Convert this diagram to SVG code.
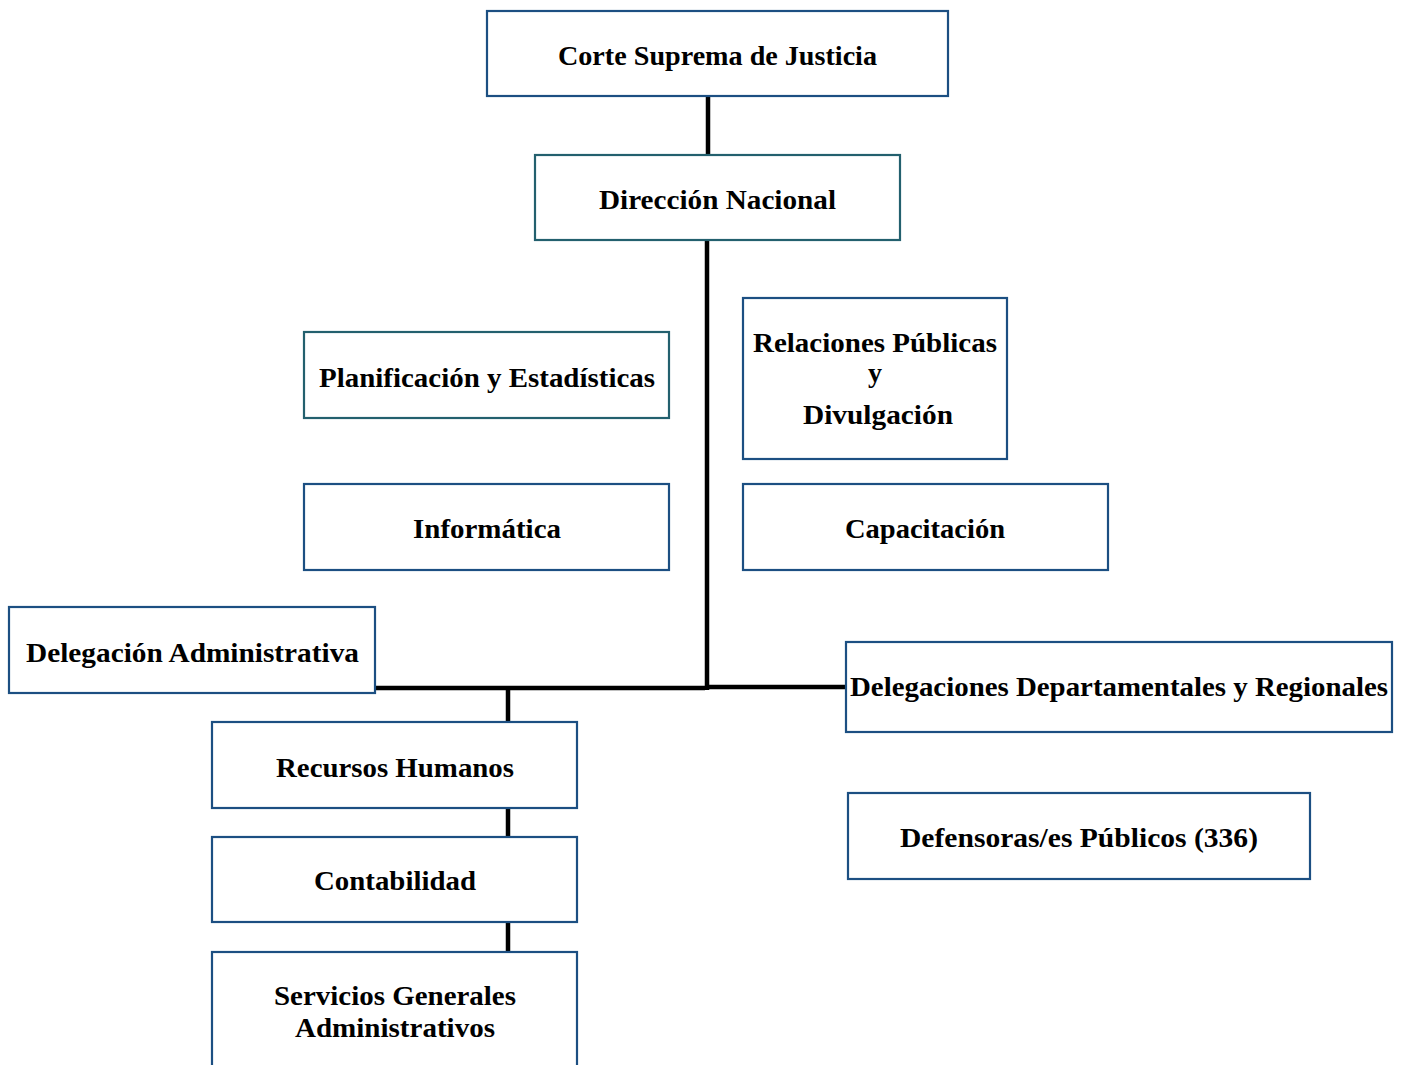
<svg xmlns="http://www.w3.org/2000/svg" width="1403" height="1065" viewBox="0 0 1403 1065">
<style>
.box{fill:#fff;stroke:#1c4f82;stroke-width:2.2}
.teal{stroke:#23606e}
.t{font-family:"Liberation Serif","Times New Roman",serif;font-weight:bold;font-size:28px;fill:#000;text-anchor:middle}
.c{stroke:#000;stroke-width:4.5;fill:none}
</style>
<rect width="1403" height="1065" fill="#fff"/>
<g id="connectors">
<line class="c" x1="708" y1="96" x2="708" y2="155"/>
<line class="c" x1="707" y1="240" x2="707" y2="690"/>
<line class="c" x1="375" y1="688" x2="705" y2="688"/>
<line class="c" x1="709" y1="687" x2="846" y2="687"/>
<line class="c" x1="508" y1="688" x2="508" y2="722"/>
<line class="c" x1="508" y1="808" x2="508" y2="837"/>
<line class="c" x1="508" y1="922" x2="508" y2="952"/>
</g>
<g id="corte"><rect class="box" x="487" y="11" width="461" height="85"/><text class="t" x="717.5" y="65" textLength="319" lengthAdjust="spacingAndGlyphs">Corte Suprema de Justicia</text></g>
<g id="direccion"><rect class="box teal" x="535" y="155" width="365" height="85"/><text class="t" x="717.5" y="209" textLength="237" lengthAdjust="spacingAndGlyphs">Dirección Nacional</text></g>
<g id="planificacion"><rect class="box teal" x="304" y="332" width="365" height="86"/><text class="t" x="487" y="387" textLength="336" lengthAdjust="spacingAndGlyphs">Planificación y Estadísticas</text></g>
<g id="relaciones"><rect class="box" x="743" y="298" width="264" height="161"/><text class="t" x="875" y="352" textLength="244" lengthAdjust="spacingAndGlyphs">Relaciones Públicas</text><text class="t" x="875" y="382">y</text><text class="t" x="878" y="424" textLength="150" lengthAdjust="spacingAndGlyphs">Divulgación</text></g>
<g id="informatica"><rect class="box" x="304" y="484" width="365" height="86"/><text class="t" x="487" y="538" textLength="148" lengthAdjust="spacingAndGlyphs">Informática</text></g>
<g id="capacitacion"><rect class="box" x="743" y="484" width="365" height="86"/><text class="t" x="925" y="538" textLength="160" lengthAdjust="spacingAndGlyphs">Capacitación</text></g>
<g id="delegacion"><rect class="box" x="9" y="607" width="366" height="86"/><text class="t" x="192.5" y="662" textLength="333" lengthAdjust="spacingAndGlyphs">Delegación Administrativa</text></g>
<g id="delegaciones"><rect class="box" x="846" y="642" width="546" height="90"/><text class="t" x="1119" y="696" textLength="538" lengthAdjust="spacingAndGlyphs">Delegaciones Departamentales y Regionales</text></g>
<g id="recursos"><rect class="box" x="212" y="722" width="365" height="86"/><text class="t" x="395" y="777" textLength="238" lengthAdjust="spacingAndGlyphs">Recursos Humanos</text></g>
<g id="contabilidad"><rect class="box" x="212" y="837" width="365" height="85"/><text class="t" x="395" y="890" textLength="162" lengthAdjust="spacingAndGlyphs">Contabilidad</text></g>
<g id="servicios"><rect class="box" x="212" y="952" width="365" height="120"/><text class="t" x="395" y="1005" textLength="242" lengthAdjust="spacingAndGlyphs">Servicios Generales</text><text class="t" x="395" y="1037" textLength="200" lengthAdjust="spacingAndGlyphs">Administrativos</text></g>
<g id="defensoras"><rect class="box" x="848" y="793" width="462" height="86"/><text class="t" x="1079" y="847" textLength="358" lengthAdjust="spacingAndGlyphs">Defensoras/es Públicos (336)</text></g>
</svg>
